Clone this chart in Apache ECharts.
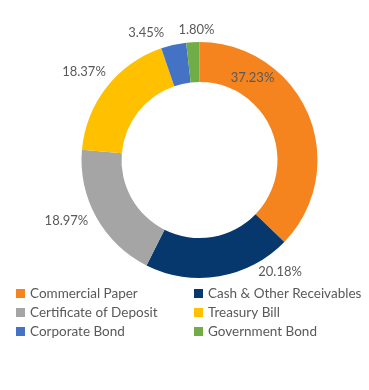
<!DOCTYPE html>
<html>
<head>
<meta charset="utf-8">
<script src="https://cdn.jsdelivr.net/npm/echarts@6/dist/echarts.min.js"></script>
<style>
html,body{margin:0;padding:0;background:#fff;}
#chart{width:369px;height:390px;}
</style>
</head>
<body>
<div id="chart"></div>
<script>
const categories = ['Commercial Paper', 'Cash & Other Receivables', 'Certificate of Deposit', 'Treasury Bill', 'Corporate Bond', 'Government Bond'];
const values = [37.23, 20.18, 18.97, 18.37, 3.45, 1.80];
const colors = ['#F5841F', '#06386D', '#A5A5A5', '#FFC000', '#4472C4', '#70AD47'];
const legendLeft = ['Commercial Paper', 'Certificate of Deposit', 'Corporate Bond'];
const legendRight = ['Cash & Other Receivables', 'Treasury Bill', 'Government Bond'];
// label nudges (style only)
const labelShift = [[-88, -34], [33, -10], [2, 0], [9, -12], [-3, -6], [27, -6]];

const chart = echarts.init(document.getElementById('chart'), null, {renderer: 'canvas'});
const font = 'Lato, "Open Sans", sans-serif';
const legendCommon = {
  orient: 'vertical',
  top: 286.5,
  padding: 0,
  icon: 'rect',
  itemWidth: 9,
  itemHeight: 9,
  itemGap: 5,
  textStyle: {color: '#595959', fontSize: 13.5, fontFamily: font}
};
chart.setOption({
  animation: false,
  color: colors,
  legend: [
    Object.assign({left: 16, data: legendLeft}, legendCommon),
    Object.assign({left: 194, data: legendRight}, legendCommon)
  ],
  series: [{
    type: 'pie',
    center: [199.5, 160],
    radius: [78, 118],
    startAngle: 90,
    clockwise: true,
    avoidLabelOverlap: false,
    itemStyle: {borderWidth: 0},
    label: {
      show: true,
      position: 'outside',
      formatter: p => p.value.toFixed(2) + '%',
      color: '#595959',
      fontSize: 13,
      fontFamily: font
    },
    labelLine: {show: false, length: 6, length2: 0},
    labelLayout: function (params) {
      const s = labelShift[params.dataIndex];
      return {dx: s[0], dy: s[1]};
    },
    data: categories.map((c, i) => ({name: c, value: values[i]}))
  }]
});
</script>
</body>
</html>
